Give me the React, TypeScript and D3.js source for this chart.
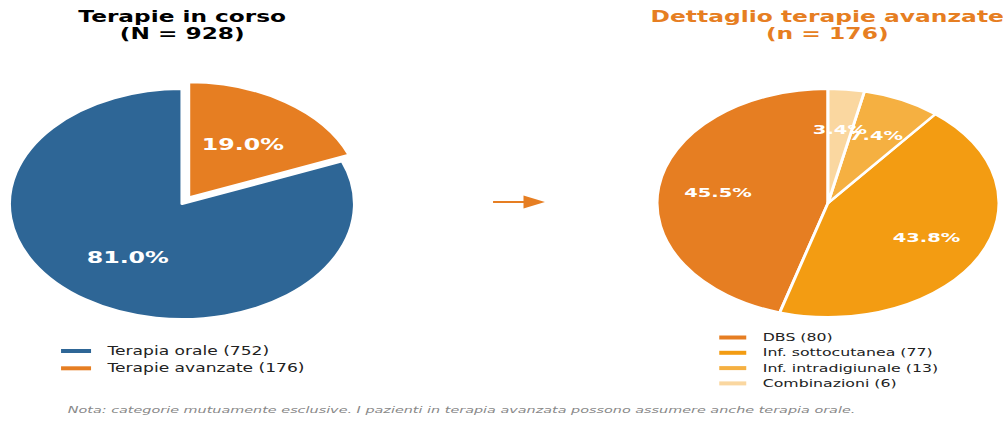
import { useEffect, useRef } from "react";
import * as d3 from "d3";

// Data
const mainLabels = ["Terapia orale", "Terapie avanzate"];
const mainValues = [752, 176];
const mainColors = ["#2E6696", "#E67E22"];
const mainExplode = [0, 0.07];

const advLabels = ["DBS", "Inf. sottocutanea", "Inf. intradigiunale", "Combinazioni"];
const advValues = [80, 77, 13, 6];
const advColors = ["#E67E22", "#F39C12", "#F5B041", "#FAD7A0"];

const titleLeft = ["Terapie in corso", "(N = 928)"];
const titleRight = ["Dettaglio terapie avanzate", "(n = 176)"];
const footnote =
  "Nota: categorie mutuamente esclusive. I pazienti in terapia avanzata possono assumere anche terapia orale.";

const WIDTH = 1003;
const HEIGHT = 423;
const SX = 1.5; // the picture is stretched horizontally
const FONT = "DejaVu Sans, Verdana, sans-serif";

type PieOpts = {
  cx: number;
  cy: number;
  r: number;
  values: number[];
  colors: string[];
  explode: number[];
  pctDist: number;
  fontSize: number;
};

const drawPie = (g: d3.Selection<SVGGElement, unknown, null, undefined>, o: PieOpts) => {
  const total = d3.sum(o.values);
  const pie = d3
    .pie<number>()
    .value((d) => d)
    .sort(null)
    .startAngle(0)
    .endAngle(-2 * Math.PI);
  const arcs = pie(o.values);
  const arc = d3.arc<d3.PieArcDatum<number>>().innerRadius(0).outerRadius(o.r);
  const labelArc = d3
    .arc<d3.PieArcDatum<number>>()
    .innerRadius(o.r * o.pctDist)
    .outerRadius(o.r * o.pctDist);

  const pg = g.append("g").attr("transform", `translate(${o.cx},${o.cy})`);

  arcs.forEach((a, i) => {
    const mid = (a.startAngle + a.endAngle) / 2;
    const dx = Math.sin(mid) * o.explode[i] * o.r;
    const dy = -Math.cos(mid) * o.explode[i] * o.r;
    const sg = pg.append("g").attr("transform", `translate(${dx},${dy})`);
    sg.append("path")
      .attr("d", arc(a) as string)
      .attr("fill", o.colors[i])
      .attr("stroke", "white")
      .attr("stroke-width", 2)
      .attr("stroke-linejoin", "round");
  });

  arcs.forEach((a, i) => {
    const mid = (a.startAngle + a.endAngle) / 2;
    const dx = Math.sin(mid) * o.explode[i] * o.r;
    const dy = -Math.cos(mid) * o.explode[i] * o.r;
    const [lx, ly] = labelArc.centroid(a);
    pg.append("text")
      .attr("x", lx + dx)
      .attr("y", ly + dy)
      .attr("text-anchor", "middle")
      .attr("dominant-baseline", "central")
      .style("font-family", FONT)
      .style("font-weight", "bold")
      .style("font-size", `${o.fontSize}px`)
      .style("fill", "white")
      .text(`${((a.data / total) * 100).toFixed(1)}%`);
  });
};

const App = () => {
  const svgRef = useRef<SVGSVGElement | null>(null);

  useEffect(() => {
    const svg = d3.select(svgRef.current);
    svg.selectAll("*").remove();

    svg.append("rect").attr("width", WIDTH).attr("height", HEIGHT).attr("fill", "white");

    const g = svg.append("g").attr("transform", `scale(${SX},1)`);

    // Titles
    const drawTitle = (lines: string[], x: number, color: string, fs: number) => {
      lines.forEach((t, i) => {
        g.append("text")
          .attr("x", x)
          .attr("y", 22.5 + i * 16.5)
          .attr("text-anchor", "middle")
          .style("font-family", FONT)
          .style("font-weight", "bold")
          .style("font-size", `${fs}px`)
          .style("fill", color)
          .text(t);
      });
    };
    drawTitle(titleLeft, 121.5, "#000000", 15.5);
    drawTitle(titleRight, 551.5, "#E67E22", 15.6);

    // Pies
    drawPie(g, {
      cx: 121.3,
      cy: 204,
      r: 115,
      values: mainValues,
      colors: mainColors,
      explode: mainExplode,
      pctDist: 0.56,
      fontSize: 15.8,
    });
    drawPie(g, {
      cx: 552,
      cy: 203,
      r: 114,
      values: advValues,
      colors: advColors,
      explode: advValues.map(() => 0),
      pctDist: 0.65,
      fontSize: 13,
    });

    // Arrow
    g.append("line")
      .attr("x1", 328.7)
      .attr("x2", 352)
      .attr("y1", 202)
      .attr("y2", 202)
      .attr("stroke", "#E67E22")
      .attr("stroke-width", 2);
    g.append("path")
      .attr("d", "M349,195.5 L363.3,202 L349,208.5 Z")
      .attr("fill", "#E67E22");

    // Legends
    const drawLegend = (
      labels: string[],
      values: number[],
      colors: string[],
      x: number,
      y0: number,
      step: number,
      fs: number,
      handle: number
    ) => {
      labels.forEach((l, i) => {
        const y = y0 + i * step;
        g.append("line")
          .attr("x1", x)
          .attr("x2", x + handle)
          .attr("y1", y)
          .attr("y2", y)
          .attr("stroke", colors[i])
          .attr("stroke-width", 4);
        g.append("text")
          .attr("x", x + handle + 11)
          .attr("y", y)
          .attr("dominant-baseline", "central")
          .style("font-family", FONT)
          .style("font-size", `${fs}px`)
          .style("fill", "#222")
          .text(`${l} (${values[i]})`);
      });
    };
    drawLegend(mainLabels, mainValues, mainColors, 40.7, 351, 17.3, 11.4, 20);
    drawLegend(advLabels, advValues, advColors, 479.5, 337.5, 15.3, 10.5, 18);

    // Footnote
    g.append("text")
      .attr("x", 307.7)
      .attr("y", 413.5)
      .attr("text-anchor", "middle")
      .style("font-family", FONT)
      .style("font-style", "italic")
      .style("font-size", "9.6px")
      .style("fill", "#888888")
      .text(footnote);
  }, []);

  return (
    <svg
      ref={svgRef}
      width={WIDTH}
      height={HEIGHT}
      style={{ position: "absolute", left: 0, top: 0, display: "block" }}
    />
  );
};

export default App;
